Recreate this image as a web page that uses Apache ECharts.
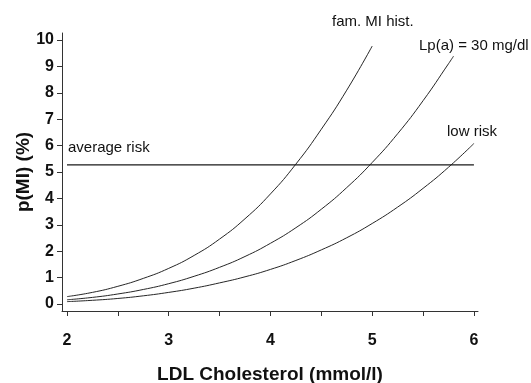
<!DOCTYPE html>
<html>
<head>
<meta charset="utf-8">
<script src="https://cdn.jsdelivr.net/npm/echarts@6/dist/echarts.min.js"></script>
<style>
html,body{margin:0;padding:0;background:#fff;}
#c{width:531px;height:383px;}
</style>
</head>
<body>
<div id="c"></div>
<script>
// LDL cholesterol (mmol/l) sample points
const ldlFam = [2.0, 2.25, 2.5, 2.75, 3.0, 3.25, 3.5, 3.75, 4.0, 4.25, 4.5, 4.75, 5.0];
const famMI = [0.28, 0.44, 0.67, 0.97, 1.35, 1.84, 2.46, 3.23, 4.17, 5.3, 6.62, 8.1, 9.77];

const ldlLpa = [2.0, 2.25, 2.5, 2.75, 3.0, 3.25, 3.5, 3.75, 4.0, 4.25, 4.5, 4.75, 5.0, 5.25, 5.5, 5.75, 5.8];
const lpa30 = [0.16, 0.25, 0.38, 0.55, 0.77, 1.05, 1.39, 1.8, 2.3, 2.89, 3.59, 4.41, 5.36, 6.45, 7.7, 9.1, 9.39];

const ldlLow = [2.0, 2.25, 2.5, 2.75, 3.0, 3.25, 3.5, 3.75, 4.0, 4.25, 4.5, 4.75, 5.0, 5.25, 5.5, 5.75, 6.0];
const lowRisk = [0.09, 0.14, 0.21, 0.31, 0.44, 0.6, 0.8, 1.03, 1.31, 1.65, 2.05, 2.51, 3.05, 3.67, 4.38, 5.18, 6.08];

const avgRiskX = [2, 6];
const avgRisk = 5.27;

const xTicks = [2, 2.5, 3, 3.5, 4, 4.5, 5, 5.5, 6];
const xLabels = [2, 3, 4, 5, 6];
const yTicks = [0, 1, 2, 3, 4, 5, 6, 7, 8, 9, 10];

const curveLabels = ['fam. MI hist.', 'Lp(a) = 30 mg/dl', 'low risk', 'average risk'];

const FONT = '"Liberation Sans", Arial, Helvetica, sans-serif';
const zip = (xs, ys) => xs.map((x, i) => [x, ys[i]]);

const chart = echarts.init(document.getElementById('c'), null, {renderer: 'canvas'});
const lineStyle = {color: '#262626', width: 1};

chart.setOption({
  animation: false,
  backgroundColor: '#fff',
  grid: {left: 62, right: 53, top: 33, bottom: 72, containLabel: false, outerBoundsMode: 'none'},
  xAxis: {
    type: 'value',
    min: 1.951, max: 6.04,
    name: 'LDL Cholesterol (mmol/l)',
    nameLocation: 'middle',
    nameGap: 54,
    nameMoveOverlap: false,
    nameTextStyle: {fontFamily: FONT, fontSize: 19, fontWeight: 'bold', color: '#111'},
    axisLine: {show: true, onZero: false, lineStyle: {color: '#333', width: 1}},
    axisTick: {show: true, customValues: xTicks, length: 5, inside: false, lineStyle: {color: '#333'}},
    axisLabel: {customValues: xLabels, fontFamily: FONT, fontSize: 16, fontWeight: 'bold', color: '#111', margin: 22},
    splitLine: {show: false}
  },
  yAxis: {
    type: 'value',
    min: -0.265, max: 10.265,
    name: 'p(MI) (%)',
    nameLocation: 'middle',
    nameRotate: 90,
    nameGap: 29,
    nameMoveOverlap: false,
    nameTextStyle: {fontFamily: FONT, fontSize: 19, fontWeight: 'bold', color: '#111'},
    axisLine: {show: true, onZero: false, lineStyle: {color: '#333', width: 1}},
    axisTick: {show: true, customValues: yTicks, length: 5, inside: false, lineStyle: {color: '#333'}},
    axisLabel: {customValues: yTicks, fontFamily: FONT, fontSize: 16, fontWeight: 'bold', color: '#111', margin: 8},
    splitLine: {show: false}
  },
  series: [
    {type: 'line', name: curveLabels[0], data: zip(ldlFam, famMI), smooth: true, symbol: 'none', lineStyle},
    {type: 'line', name: curveLabels[1], data: zip(ldlLpa, lpa30), smooth: true, symbol: 'none', lineStyle},
    {type: 'line', name: curveLabels[2], data: zip(ldlLow, lowRisk), smooth: true, symbol: 'none', lineStyle},
    {type: 'line', name: curveLabels[3], data: avgRiskX.map(x => [x, avgRisk]), symbol: 'none', lineStyle: {color: '#1a1a1a', width: 1.2}}
  ],
  graphic: [
    {type: 'text', left: 332, top: 14, style: {text: curveLabels[0], font: '15px ' + FONT, fill: '#111'}},
    {type: 'text', left: 419, top: 38, style: {text: curveLabels[1], font: '15px ' + FONT, fill: '#111'}},
    {type: 'text', left: 447, top: 124, style: {text: curveLabels[2], font: '15px ' + FONT, fill: '#111'}},
    {type: 'text', left: 68, top: 140, style: {text: curveLabels[3], font: '15px ' + FONT, fill: '#111'}}
  ]
});
</script>
</body>
</html>
